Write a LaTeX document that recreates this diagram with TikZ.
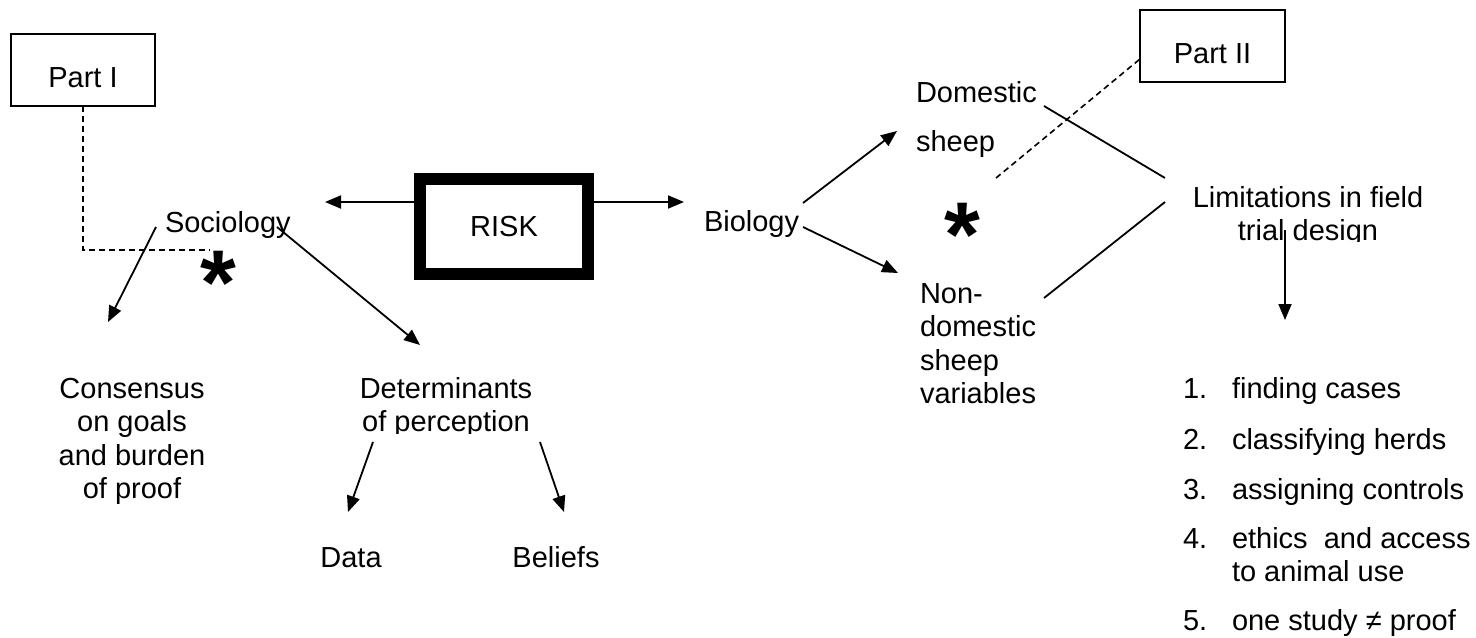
\documentclass[tikz,border=0pt]{standalone}
\usepackage{fontspec}
\setmainfont{Liberation Sans}
\usetikzlibrary{arrows.meta}
\begin{document}
\begin{tikzpicture}[x=0.5pt,y=-0.5pt,
  every node/.style={font=\fontsize{14.5}{16.75}\selectfont, inner sep=0pt, outer sep=0pt},
  txt/.style={anchor=base},
  txtw/.style={anchor=base west},
  ln/.style={line width=0.9pt},
  arr/.style={line width=0.9pt,-{Triangle[length=8pt,width=6.5pt]}},
  dsh/.style={line width=0.8pt,dash pattern=on 3pt off 2pt},
  partbox/.style={draw,line width=0.9pt,minimum height=36pt,text depth=0pt},
  riskbox/.style={draw,line width=6pt,minimum width=84pt,minimum height=47.5pt,outer sep=3pt},
  star/.style={anchor=base,font=\fontsize{46}{46}\selectfont\bfseries}
]
\useasboundingbox (0,0) rectangle (1476,637);
\fill[white] (0,0) rectangle (1476,637);

% boxes
\node[partbox,minimum width=72pt,text height=17.9pt] (p1) at (83,70) {Part I};
\node[partbox,minimum width=72.5pt,text height=17pt] (p2) at (1212.5,46) {Part II};
\node[riskbox] (risk) at (504,226.5) {RISK};

% text nodes
\node[txtw] (soc) at (165,232) {Sociology};
\node[txtw] (bio) at (704,231) {Biology};
\node[txt] (cons) at (132,398) {\begin{tabular}[t]{@{}c@{}}Consensus\\on goals\\and burden\\of proof\end{tabular}};
\begin{scope}
\clip (300,370) rectangle (600,433);
\node[txt] (det) at (446,398) {\begin{tabular}[t]{@{}c@{}}Determinants\\of perception\end{tabular}};
\end{scope}
\node[txt] (data) at (351,567) {Data};
\node[txt] (bel) at (556,567) {Beliefs};
\node[txtw] (dom) at (916,102) {\begin{tabular}[t]{@{}l@{}}Domestic\\[7.75pt]sheep\end{tabular}};
\node[txtw] (non) at (920,303) {\begin{tabular}[t]{@{}l@{}}Non-\\domestic\\sheep\\variables\end{tabular}};
\begin{scope}
\clip (1150,170) rectangle (1470,241);
\node[txt] (lim) at (1308,207) {\begin{tabular}[t]{@{}c@{}}Limitations in field\\trial design\end{tabular}};
\end{scope}
\node[txtw] (l1) at (1183,398) {\makebox[24.5pt][l]{1.}finding cases};
\node[txtw] (l2) at (1183,449) {\makebox[24.5pt][l]{2.}classifying herds};
\node[txtw] (l3) at (1183,499) {\makebox[24.5pt][l]{3.}assigning controls};
\node[txtw] (l4) at (1183,548) {\makebox[24.5pt][l]{4.}\begin{tabular}[t]{@{}l@{}}ethics\ \ and access\\to animal use\end{tabular}};
\node[txtw] (l5) at (1183,630) {\makebox[24.5pt][l]{5.}one study ≠ proof};

\node[star] (st1) at (218,314) {\raisebox{0pt}[0pt][0pt]{*}};
\node[star] (st2) at (962,266) {\raisebox{0pt}[0pt][0pt]{*}};

% coordinates
\coordinate (p1turn) at (83,250);
\coordinate (p1end) at (210,250);
\coordinate (p2end) at (996,178);
\coordinate (socR) at (325,202);
\coordinate (bioL) at (684,202);
\coordinate (socA) at (156,227);
\coordinate (consT) at (108,322);
\coordinate (socB) at (277,227);
\coordinate (detT) at (420,345);
\coordinate (detA) at (373,442);
\coordinate (dataT) at (348,512);
\coordinate (detB) at (540,442);
\coordinate (belT) at (564,512);
\coordinate (bioA) at (803,203);
\coordinate (domT) at (897,131);
\coordinate (bioB) at (803,227);
\coordinate (nonT) at (898,273);
\coordinate (domR) at (1044,106);
\coordinate (limA) at (1165,178);
\coordinate (nonR) at (1044,298);
\coordinate (limB) at (1165,202);
\coordinate (limD) at (1285,230);
\coordinate (listT) at (1285,320);

% connectors
\draw[dsh] (p1.south) -- (p1turn) -- (p1end);
\draw[dsh] (p2end) -- ([yshift=-6.5pt]p2.west);
\draw[arr] ([yshift=12.25pt]risk.west) -- (socR);
\draw[arr] ([yshift=12.25pt]risk.east) -- (bioL);
\draw[arr] (socA) -- (consT);
\draw[arr] (socB) -- (detT);
\draw[arr] (detA) -- (dataT);
\draw[arr] (detB) -- (belT);
\draw[arr] (bioA) -- (domT);
\draw[arr] (bioB) -- (nonT);
\draw[ln] (domR) -- (limA);
\draw[ln] (nonR) -- (limB);
\draw[arr] (limD) -- (listT);
\end{tikzpicture}
\end{document}
